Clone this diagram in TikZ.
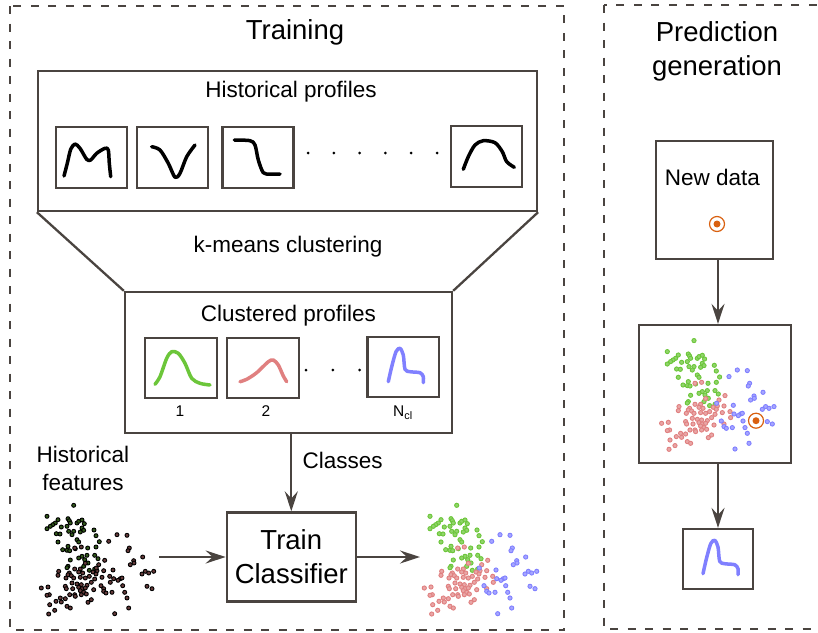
\documentclass[tikz,border=0pt]{standalone}
\usepackage{fontspec}
\setmainfont{Liberation Sans}
\usetikzlibrary{arrows.meta}

\definecolor{ink}{HTML}{4A4440}
\definecolor{clgreen}{HTML}{6CC63A}
\definecolor{clred}{HTML}{E08080}
\definecolor{clblue}{HTML}{8080FF}
\definecolor{target}{HTML}{D9600F}

\tikzstyle{box}   = [draw=ink, line width=2.3, inner sep=0, minimum width=71, minimum height=61]
\tikzstyle{panel} = [draw=ink, line width=2.3, dash pattern=on 8pt off 9.5pt]
\tikzstyle{arr}   = [draw=ink, line width=2.3, -{Stealth[length=20pt, width=13pt, inset=7pt]}]
\tikzstyle{curve} = [line width=3.5, line cap=round, line join=round]
\tikzstyle{blob}  = [line width=0.9]
\tikzstyle{big}   = [font=\fontsize{27.5}{34.3}\selectfont]
\tikzstyle{mid}   = [font=\fontsize{22.5}{28}\selectfont]
\tikzstyle{small} = [font=\fontsize{15.5}{18}\selectfont]

% feature clouds, offsets from the upper left corner of a cloud
\def\greenpts{41.7/7.3, 15/18.3, 23.3/25, 26/21.7, 20.7/26.7, 18.3/28.3, 15/30.7, 36/20.7, 37.3/22.7, 38.3/25, 35/28.3, 29.3/29, 45/25, 46.7/23.3, 50/22, 52.3/25.7, 50/30, 51.7/32.3, 48.3/34, 41.7/33.3, 36.7/33.3, 24.3/35.7, 28/36, 40/36.7, 62/32, 64/37.7, 45/41.7, 46.7/44, 26/44, 67.3/43.7, 36/48.3, 35/52.3, 30.7/51.7, 37.7/52.7, 55.7/50, 64/49, 43.3/50.7, 50/58.3, 55/57.3, 62.7/57.3, 66/60.7, 38.3/62, 52.7/61.7, 56/65, 51.7/68.3, 36/68.3, 35/69.7, 57.3/72.3, 62.7/71, 46.7/60}
\def\redpts{42.7/50, 49.3/49, 72.7/62.3, 66.7/66.7, 53.3/65.3, 65/72.7, 61/74, 48.3/71, 42.7/71, 46.7/74, 50.7/75, 26.7/73.3, 26/77.3, 37.3/75, 36/76.7, 39.3/77.7, 34/80, 41.7/80, 48.3/79.3, 53.3/80, 57.3/78.3, 62.7/81, 70/79.3, 77.7/78.3, 40/85, 45/86, 49.3/86.7, 55/87.3, 59.3/84.3, 33.3/88.3, 34.3/90.7, 40.7/90.7, 46.7/89.3, 50/90.7, 53.3/90, 48.3/92.7, 51.7/94.3, 54.3/96, 9.3/90, 16/89, 17.3/96.7, 15/97.3, 37.7/96.7, 42.7/96.7, 49.3/96.7, 61.7/91.7, 71.7/90.7, 78.3/84.3, 28.3/100, 33.3/100.7, 24/103.3, 59.3/101.7, 56/104.3, 17.7/106.7, 35/108.3, 38.3/110, 22.7/112.3, 16.7/116, 29.3/104, 43.3/98.3, 64/76, 71.7/72.7}
\def\bluepts{85/36.7, 95/37.3, 76.7/43.3, 97.3/50, 96/52.7, 110.7/59, 101.7/62.7, 102/65, 98.3/66.7, 81/72, 88.3/80.7, 86/82.3, 90/80, 81.7/80.7, 113.3/73.3, 116.7/75, 121.7/73.3, 110/76, 69/87.7, 90.7/87.7, 115/88.3, 120/90.7, 71.7/93.3, 74/95, 80/94.3, 92.7/94.3, 95/100, 96.7/110, 82.7/115.7, 64.3/70}
% profile of the last cluster, relative to its box centre
\newcommand{\bluecurve}{plot[smooth] coordinates {(-15,14.7) (-11.6,-0.3) (-7.3,-15.3) (-3.3,-18.7) (0,-12) (1.7,2.3) (6.7,4.7) (16.7,5.7) (20,9.7) (20,15.7)}}

\begin{document}
\begin{tikzpicture}[x=1pt,y=-1pt]
  \useasboundingbox (0,0) rectangle (818,632);

  % panels
  \draw[panel] (10,6) rectangle (564,630);
  \draw[panel] (604,5) rectangle (830,629);
  \node[big, anchor=base] (traintitle) at (295,39.5) {Training};
  \node[big, align=center] (predtitle) at (717,51.7) {Prediction\\generation};

  % historical profiles -> clustered profiles
  \node[box, minimum width=499, minimum height=140] (hist) at (287.5,141) {};
  \node[box, minimum width=327, minimum height=141] (clustered) at (288.5,362.5) {};
  \draw[draw=ink, line width=2.3] (hist.south west) -- (clustered.north west)
        (hist.south east) -- (clustered.north east);
  \node[mid, anchor=base] (histlabel) at (291,97.5) {Historical profiles};
  \node[mid, anchor=base] (kmeans) at (288,252.5) {k-means clustering};
  \node[mid, anchor=base] (cllabel) at (288.3,321.7) {Clustered profiles};

  \node[box] (hp1) at (91.3,157.8) {};
  \node[box] (hp2) at (172.5,157.8) {};
  \node[box] (hp3) at (258,157.8) {};
  \node[box] (hpn) at (486.8,156.5) {};
  \draw[curve] plot[smooth] coordinates {(64,176) (67.3,163.3) (70.7,149.3) (75,144) (80,148.3) (86.7,159.3) (90.7,160) (96.7,153.3) (105,148.3) (108.3,150) (109.3,163.3) (110.7,176.7)};
  \draw[curve] plot[smooth] coordinates {(151.7,146.7) (160,150) (168.3,163.3) (175,177.3) (180,173.3) (186.7,156.7) (195,145)};
  \draw[curve] plot[smooth] coordinates {(234.3,140) (250,140.7) (255,145) (258.3,160) (263.3,172.7) (270,174) (280,174)};
  \draw[curve] plot[smooth] coordinates {(463.3,169.3) (468.3,156.7) (475,145) (483.3,140.7) (495,142.7) (502.3,151.7) (506.7,161.7) (514.3,167.3)};
  \foreach \i in {0,...,5} {
    \fill (308+25.8*\i,153) circle (1.5);
  }

  \node[box, minimum width=71.5, minimum height=60] (cp1) at (181,368.3) {};
  \node[box, minimum width=71.5, minimum height=60] (cp2) at (263,368.3) {};
  \node[box, minimum width=71.5, minimum height=60] (cpn) at (403.3,367) {};
  \draw[curve, clgreen] plot[smooth] coordinates {(155,384.3) (160,376.7) (166.7,358.3) (171.7,351.7) (178.3,353.3) (185,363.3) (191.7,378.3) (200,383.3) (210,385)};
  \draw[curve, clred] plot[smooth] coordinates {(240,381.7) (246.7,379.3) (256.7,372.7) (268.3,361.7) (273.3,360) (278.3,365) (283.3,376) (286.7,381.7)};
  \draw[curve, clblue, shift={(cpn)}] \bluecurve;
  \foreach \i in {0,...,2} {
    \fill (306+26.8*\i,370) circle (1.5);
  }
  \node[small, anchor=base] (n1) at (180,416.7) {1};
  \node[small, anchor=base] (n2) at (266,416.7) {2};
  \node[small, anchor=base] (nn) at (403,416.7) {N\textsubscript{cl}};

  % classifier
  \node[box, big, align=center, minimum width=129, minimum height=89] (train) at (291.3,557) {Train\\Classifier};
  \draw[arr] (train.north |- clustered.south) -- (train.north);
  \node[mid, anchor=base west] (classes) at (299,468.3) {Classes};
  \node[mid, align=center] (featlabel) at (83,468.5) {Historical\\features};
  \coordinate (featsE) at (159,557);
  \coordinate (cloudW) at (420,557);
  \draw[arr] (featsE) -- (train.west);
  \draw[arr] (train.east) -- (cloudW);

  % unlabelled features
  \foreach \x/\y in \greenpts {\filldraw[blob, draw=black, fill=clgreen!45!black] (32+\x,498+\y) circle (2);}
  \foreach \x/\y in \redpts {\filldraw[blob, draw=black, fill=clred!45!black] (32+\x,498+\y) circle (2);}
  \foreach \x/\y in \bluepts {\filldraw[blob, draw=black, fill=clred!45!black] (32+\x,498+\y) circle (2);}

  % labelled clouds
  \foreach \ox/\oy in {415/498, 652.3/333.3} {
    \foreach \x/\y in \greenpts {\filldraw[blob, draw=clgreen, fill=clgreen!75] (\ox+\x,\oy+\y) circle (2.1);}
    \foreach \x/\y in \redpts {\filldraw[blob, draw=clred, fill=clred!70] (\ox+\x,\oy+\y) circle (2.1);}
    \foreach \x/\y in \bluepts {\filldraw[blob, draw=clblue, fill=clblue!70] (\ox+\x,\oy+\y) circle (2.1);}
  }

  % prediction
  \node[box, minimum width=117, minimum height=118] (newdata) at (714.5,200) {};
  \node[mid, anchor=base] (newlabel) at (712.5,185) {New data};
  \node[box, minimum width=152, minimum height=138] (predbox) at (715.2,394) {};
  \node[box, minimum width=70, minimum height=60] (result) at (718,559) {};
  \draw[arr] (newdata.south -| result) -- (predbox.north -| result);
  \draw[arr] (predbox.south -| result) -- (result.north);
  \draw[curve, clblue, shift={(result)}] \bluecurve;
  \foreach \tx/\ty in {717/224, 756/420.7} {
    \draw[target, line width=1.2] (\tx,\ty) circle (7.5);
    \fill[target] (\tx,\ty) circle (3.5);
  }
\end{tikzpicture}
\end{document}
